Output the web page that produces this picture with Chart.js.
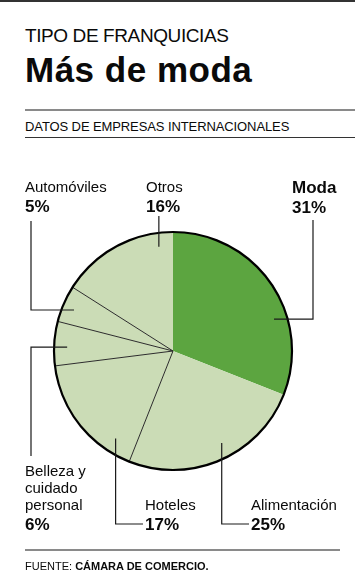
<!DOCTYPE html>
<html>
<head>
<meta charset="utf-8">
<script src="https://cdn.jsdelivr.net/npm/chart.js@4/dist/chart.umd.min.js"></script>
<style>
  html, body { margin:0; padding:0; background:#fff; }
  body { width:355px; height:573px; position:relative; overflow:hidden; font-family:"Liberation Sans", Arial, sans-serif; color:#0a0a0a; }
  .t { position:absolute; left:25px; white-space:nowrap; line-height:1; }
  #kicker { top:26px; font-size:19px; letter-spacing:-0.4px; }
  #title { top:52px; font-size:35px; font-weight:bold; letter-spacing:0.5px; }
  #sub { top:120px; font-size:13px; letter-spacing:-0.1px; }
  #src { top:561px; font-size:11px; letter-spacing:0px; }
  .rule { position:absolute; }
  canvas { position:absolute; left:0; top:0; }
</style>
</head>
<body>
<div class="rule" style="left:0;top:0;width:355px;height:2px;background:#333"></div>
<div class="t" id="kicker">TIPO DE FRANQUICIAS</div>
<div class="t" id="title">Más de moda</div>
<div class="rule" style="left:25px;top:109px;width:330px;height:2px;background:#8a8a8a"></div>
<div class="t" id="sub">DATOS DE EMPRESAS INTERNACIONALES</div>
<div class="rule" style="left:25px;top:137px;width:330px;height:1px;background:#333"></div>
<canvas id="c" width="355" height="573"></canvas>
<div class="rule" style="left:25px;top:549px;width:315px;height:2px;background:#8a8a8a"></div>
<div class="t" id="src">FUENTE: <b>CÁMARA DE COMERCIO.</b></div>
<script>
// ---- data ----
const categories = ["Moda", "Alimentación", "Hoteles", "Belleza y cuidado personal", "Automóviles", "Otros"];
const labelLines = [["Moda"], ["Alimentación"], ["Hoteles"], ["Belleza y", "cuidado", "personal"], ["Automóviles"], ["Otros"]];
const values = [31, 25, 17, 6, 5, 16];
const highlight = [true, false, false, false, false, false];

const DARK = "#5ca540", LIGHT = "#cbdcb6", INK = "#1a1a1a";

// label layout (positions only, not data)
const labelLayout = [
  { x: 292, y: 193, f: 0.65, rf: 0.89, path: a => [[a.x, a.y], [313, a.y], [313, 220]] },
  { x: 251, y: 510, f: 0.45, rf: 0.875, path: a => [[a.x, a.y], [a.x, 524], [249, 524]] },
  { x: 145, y: 510, f: 0.19, rf: 0.88, path: a => [[a.x, a.y], [a.x, 524], [143, 524]] },
  { x: 25, y: 476, f: 0.43, rf: 0.89, path: a => [[a.x, a.y], [31, a.y], [31, 456]] },
  { x: 25, y: 192, f: 0.45, rf: 0.9, path: a => [[a.x, a.y], [31, a.y], [31, 221]] },
  { x: 146, y: 192, f: 0.866, rf: 0.885, path: a => [[a.x, a.y], [a.x, 216]] }
];

const FONT = '"Liberation Sans", Arial, sans-serif';

const decor = {
  id: 'decor',
  afterDatasetsDraw(chart) {
    const ctx = chart.ctx;
    const arcs = chart.getDatasetMeta(0).data;
    if (!arcs.length) return;
    const cx = arcs[0].x, cy = arcs[0].y, R = arcs[0].outerRadius;
    ctx.save();
    // separators between light slices
    ctx.strokeStyle = "#2b2b2b";
    ctx.lineWidth = 1;
    arcs.forEach((arc, i) => {
      const prev = (i - 1 + arcs.length) % arcs.length;
      if (highlight[i] || highlight[prev]) return;
      const ang = arc.startAngle;
      ctx.beginPath();
      ctx.moveTo(cx, cy);
      ctx.lineTo(cx + R * Math.cos(ang), cy + R * Math.sin(ang));
      ctx.stroke();
    });
    // outer ring
    ctx.lineWidth = 2.2;
    ctx.strokeStyle = "#000";
    ctx.beginPath();
    ctx.arc(cx, cy, R, 0, Math.PI * 2);
    ctx.stroke();
    // leaders and labels
    ctx.lineWidth = 1.2;
    ctx.strokeStyle = INK;
    ctx.fillStyle = "#0a0a0a";
    ctx.textBaseline = "alphabetic";
    arcs.forEach((arc, i) => {
      const L = labelLayout[i];
      const ang = arc.startAngle + L.f * (arc.endAngle - arc.startAngle);
      const a = { x: cx + R * L.rf * Math.cos(ang), y: cy + R * L.rf * Math.sin(ang) };
      const pts = L.path(a);
      ctx.beginPath();
      ctx.moveTo(pts[0][0], pts[0][1]);
      for (let k = 1; k < pts.length; k++) ctx.lineTo(pts[k][0], pts[k][1]);
      ctx.stroke();
      const lines = labelLines[i];
      let y = L.y;
      lines.forEach((ln, k) => {
        ctx.font = (highlight[i] ? "bold 17px " : "15px ") + FONT;
        ctx.fillText(ln, L.x, y);
        if (k < lines.length - 1) y += 17;
      });
      ctx.font = "bold 17px " + FONT;
      ctx.fillText(values[i] + "%", L.x, y + 20);
    });
    ctx.restore();
  }
};

new Chart(document.getElementById('c'), {
  type: 'pie',
  data: {
    labels: categories,
    datasets: [{
      data: values,
      backgroundColor: highlight.map(h => h ? DARK : LIGHT),
      borderWidth: 0,
      hoverOffset: 0
    }]
  },
  options: {
    responsive: false,
    animation: false,
    events: [],
    layout: { padding: { left: 54, right: 63, top: 232, bottom: 103 } },
    plugins: { legend: { display: false }, tooltip: { enabled: false }, title: { display: false } }
  },
  plugins: [decor]
});
</script>
</body>
</html>
